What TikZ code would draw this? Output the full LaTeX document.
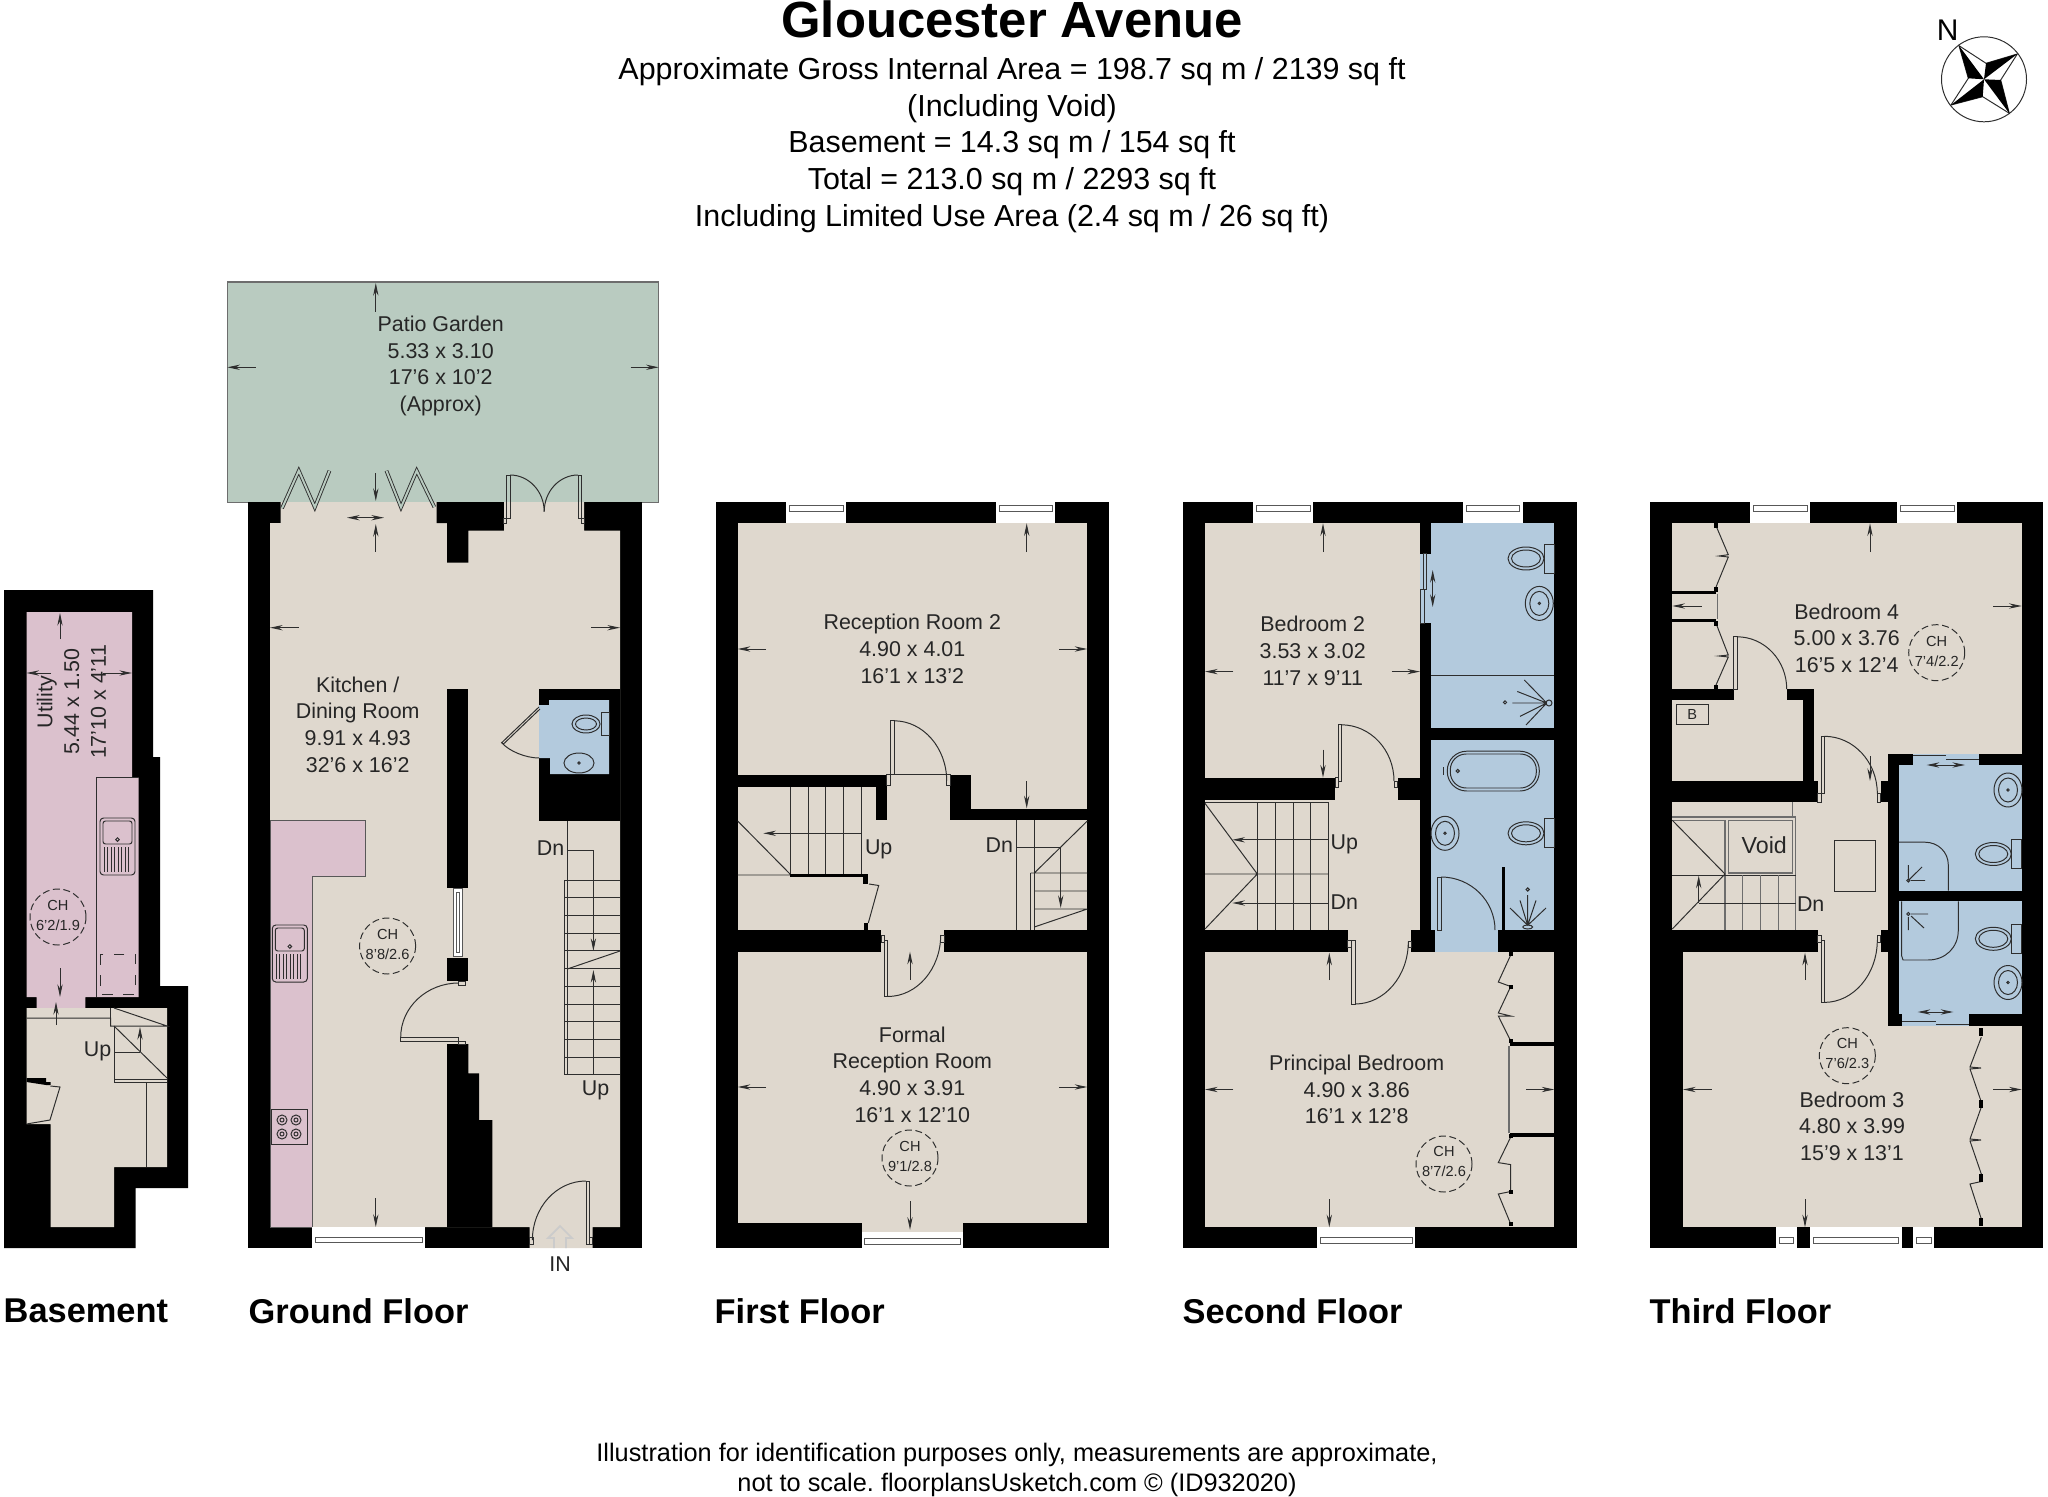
\documentclass[tikz,border=0pt]{standalone}
\usepackage{fontspec}
\setmainfont{Liberation Sans}
\usetikzlibrary{arrows.meta,calc}
\definecolor{beigefl}{HTML}{DFD8CE}
\definecolor{pinkfl}{HTML}{DBC1CD}
\definecolor{bluefl}{HTML}{B3CADD}
\definecolor{greenfl}{HTML}{B9CBC0}
\definecolor{linefl}{HTML}{2E2E2E}
\tikzset{
  thinl/.style={draw=linefl,line width=0.28pt},
  greyl/.style={draw=linefl!70,line width=0.4pt},
  dim/.style={draw=linefl,line width=0.28pt,-{Stealth[length=3.6pt,width=1.5pt]}},
  dimboth/.style={draw=linefl,line width=0.28pt,{Stealth[length=3.6pt,width=1.5pt]}-{Stealth[length=3.6pt,width=1.5pt]}},
  leaf/.style={draw=linefl,line width=0.25pt,double=#1,double distance=0.55pt},
  room/.style={inner sep=0pt,align=center,text=black!85,font=\fontsize{6.09}{7.6}\selectfont},
  smalltx/.style={inner sep=0pt,align=center,text=black!85,font=\fontsize{4.15}{5.7}\selectfont},
  flabel/.style={inner sep=0pt,anchor=west,font=\fontsize{9.78}{11}\selectfont\bfseries},
  chring/.style={draw=linefl,line width=0.28pt,dash pattern=on 2pt off 1pt}
}
% fixtures
\newcommand{\doorarc}[3]{\draw[thinl] (#1) .. controls ($(#1)!0.552!(#3)$) and ($(#2)!0.552!(#3)$) .. (#2);}
\newcommand{\basin}[2]{
  \draw[thinl] (#1,#2) ellipse (14 and 17);
  \draw[thinl] (#1,#2) ellipse (9.5 and 12);
  \draw[thinl] (#1,#2) circle (1.2);
}
\newcommand{\loo}[2]{
  \draw[thinl] (#1+18,#2-14.5) rectangle (#1+28.4,#2+14.5);
  \draw[thinl] (#1,#2) ellipse (18 and 11.5);
  \draw[thinl] (#1,#2) ellipse (14.5 and 8.5);
}
\newcommand{\kitsink}[2]{
  \draw[thinl,rounded corners=1pt] (#1,#2) rectangle (#1+35,#2+57);
  \draw[thinl,rounded corners=0.7pt] (#1+3,#2+3) rectangle (#1+32,#2+26);
  \draw[thinl] (#1+17.5,#2+21.5) circle (1.8);
  \foreach \ribx in {4,7.5,...,31} \draw[thinl] (#1+\ribx,#2+29) -- (#1+\ribx,#2+54);
}
\newcommand{\winh}[6]{
  \fill[white] (#1,#3) rectangle (#2,#4);
  \draw[draw=linefl!80,line width=0.28pt] (#1+3,#5) rectangle (#2-3,#6);
}
\begin{document}
\frenchspacing
\begin{tikzpicture}[x=0.01cm,y=-0.01cm]
\useasboundingbox (0,0) rectangle (2048,1497);
% headings
\node[inner sep=0pt,font=\fontsize{14.45}{16}\selectfont\bfseries] (title) at (1012,19) {Gloucester Avenue};
\node[inner sep=0pt,align=center,font=\fontsize{8.65}{10.4}\selectfont] (areas) at (1012,145) {Approximate Gross Internal Area = 198.7 sq m / 2139 sq ft\\(Including Void)\\Basement = 14.3 sq m / 154 sq ft\\Total = 213.0 sq m / 2293 sq ft\\Including Limited Use Area (2.4 sq m / 26 sq ft)};
\node[inner sep=0pt,align=center,font=\fontsize{7.2}{8.53}\selectfont] (notes) at (1017,1470) {Illustration for identification purposes only, measurements are approximate,\\not to scale. floorplansUsketch.com \textcopyright{} (ID932020)};
\node[flabel] (lbbase) at (3,1311) {Basement};
\node[flabel] (lbground) at (248,1311) {Ground Floor};
\node[flabel] (lbfirst) at (714,1311) {First Floor};
\node[flabel] (lbsecond) at (1182,1311) {Second Floor};
\node[flabel] (lbthird) at (1649,1311) {Third Floor};
% compass
\node[inner sep=0pt,font=\fontsize{8.5}{10}\selectfont] (north) at (1947.7,30.7) {N};
\draw[thinl] (1984,79.3) circle (42.5);
\draw[thinl] (1959,45.7) -- (1986,63.3) -- (2017.3,54) -- (2000.7,80) -- (2009.3,113.3) -- (1982.7,96.7) -- (1951,105) -- (1968.3,78.3) -- cycle;
\fill[black] (1959,45.7) -- (1984,79.3) -- (1968.3,78.3) -- cycle;
\fill[black] (2017.3,54) -- (1984,79.3) -- (1986,63.3) -- cycle;
\fill[black] (2009.3,113.3) -- (1984,79.3) -- (2000.7,80) -- cycle;
\fill[black] (1951,105) -- (1984,79.3) -- (1982.7,96.7) -- cycle;

% basement
\fill[black] (4,590) -- (153,590) -- (153,757) -- (160,757) -- (160,986) -- (188,986) -- (188,1188) -- (135.5,1188) -- (135.5,1248) -- (4,1248) -- cycle;
\fill[pinkfl] (26.5,612) -- (132,612) -- (132,777) -- (138.5,777) -- (138.5,997) -- (85.4,997) -- (85.4,1008) -- (36.6,1008) -- (36.6,997) -- (26.5,997) -- cycle;
\fill[beigefl] (26.5,1008) -- (167,1008) -- (167,1167) -- (114,1167) -- (114,1227) -- (50.5,1227) -- (50.5,1124) -- (26.5,1124) -- cycle;
\draw[thinl] (96.4,997) -- (96.4,777) -- (138.5,777);
\kitsink{100}{818}
\draw[thinl,dashed] (100,954) rectangle (135.5,994);
\draw[chring] (58,917) circle (28);
\node[smalltx] (chbase) at (58,915) {CH\\6'2/1.9};
\draw[thinl] (26.5,1018) -- (110.7,1018) -- (110.7,1026) -- (167,1026) -- (114,1008);
\draw[thinl] (110.7,1008) -- (110.7,1018);
\draw[thinl] (114,1026) -- (114,1082) -- (167,1082);
\draw[thinl] (114,1079) -- (167,1079);
\draw[thinl] (114,1026) -- (167,1078);
\draw[thinl] (114,1052) -- (140,1052);
\draw[dim] (140,1052) -- (140,1027);
\draw[thinl] (146,1082) -- (146,1167);
\fill[black] (26.5,1078) -- (46,1078) -- (46,1082) -- (50.5,1082) -- (50.5,1085) -- (46,1085) -- (26.5,1082) -- cycle;
\draw[thinl] (50.5,1086) -- (60,1087) -- (50,1120) -- (26.5,1124);
\node[room] (upbase) at (97.6,1051) {Up};
\draw[dim] (60,968) -- (60,997);
\draw[dim] (56,1025) -- (56,1002);
\draw[dim] (60,639) -- (60,613);
\draw[dim] (51,673) -- (26.5,673);
\draw[dim] (103,673) -- (132,673);
\node[room,rotate=90] (utility) at (71.5,702) {Utility\\5.44 x 1.50\\17'10 x 4'11};

% ground floor
\fill[greenfl] (227.3,282) rectangle (658.7,502.7);
\draw[greyl] (227.3,282) rectangle (658.7,502.7);
\fill[black] (248.3,502) rectangle (641.8,1248);
\fill[beigefl] (270,523) -- (280.7,523) -- (280.7,502) -- (584,502) -- (584,530.7) -- (620,530.7) -- (620,1227) -- (592.6,1227) -- (592.6,1248) -- (529.5,1248) -- (529.5,1227) -- (270,1227) -- cycle;
\fill[black] (436.5,502) -- (503.8,502) -- (503.8,530.7) -- (468.4,530.7) -- (468.4,562.7) -- (447,562.7) -- (447,523) -- (436.5,523) -- cycle;
\fill[black] (447,689) rectangle (468.4,887.7);
\fill[black] (447,957.7) rectangle (468.4,981);
\fill[black] (447,1044) -- (468.4,1044) -- (468.4,1073.3) -- (479,1073.3) -- (479,1120) -- (492.4,1120) -- (492.4,1227) -- (447,1227) -- cycle;
\fill[black] (538.7,689) rectangle (620,820.7);
\fill[bluefl] (549,700) -- (609,700) -- (609,774) -- (550,774) -- (550,758) -- (539,758) -- (539,705) -- (549,705) -- cycle;
\draw[thinl] (601,712.7) rectangle (609,735);
\draw[thinl] (586,724) ellipse (14 and 9);
\draw[thinl] (586,724) ellipse (10.5 and 6);
\draw[thinl] (579,763) ellipse (15 and 10);
\draw[thinl] (579,763) circle (1.2);
\draw[thinl] (539,707) -- (501.7,742.7) -- (503.5,744) -- (540,709);
\doorarc{501.7,742.7}{539,758}{515,758}
% counter
\filldraw[fill=pinkfl,draw=linefl!80,line width=0.28pt] (270,820) -- (365.3,820) -- (365.3,876.7) -- (312.3,876.7) -- (312.3,1227) -- (270,1227) -- cycle;
\kitsink{272.3}{925}
\draw[thinl] (271,1109.3) rectangle (307,1144.7);
\foreach \ringx in {282,296} \foreach \ringy in {1120,1134} {
  \draw[thinl] (\ringx,\ringy) circle (5);
  \draw[thinl] (\ringx,\ringy) circle (2);
}
\draw[chring] (387.6,946) circle (28);
\node[smalltx] (chground) at (387.6,944) {CH\\8'8/2.6};
% doors
\draw[draw=linefl!80,line width=0.22pt,fill=white] (453,888) rectangle (462,956.7);
\draw[draw=linefl!80,line width=0.22pt] (456,892) rectangle (459,952);
\doorarc{458.8,983}{400.7,1037.3}{400.7,983}
\draw[thinl] (400.7,1037.3) rectangle (458,1041);
\draw[thinl] (458,1041) rectangle (465,1044);
\draw[thinl] (458.5,981) rectangle (465,985);
\winh{312.3}{425}{1227}{1248}{1237.7}{1242.7}
\draw[leaf=greenfl] (282,508.3) -- (298.8,470.7) -- (314.8,507.3) -- (329.5,470.7);
\draw[leaf=greenfl] (434.3,507) -- (416.7,470.7) -- (401,507.3) -- (386.4,470.7);
\draw[thinl] (506.3,475) rectangle (510,518.3);
\draw[thinl] (578,475) rectangle (581.7,518.3);
\doorarc{510,475}{544.2,511.7}{544.2,475}
\doorarc{578,475}{544.2,511.7}{544.2,475}
\draw[thinl] (503.8,518.3) rectangle (506.3,523);
\draw[thinl] (581.7,518.3) rectangle (584,523);
\draw[thinl] (586,1181) rectangle (589,1244);
\doorarc{586,1181}{532.4,1240}{532.4,1181}
\draw[thinl] (529.5,1237) rectangle (533.5,1244);
\draw[thinl] (589,1237) rectangle (592.6,1244);
\draw[draw=linefl!25,line width=0.5pt] (554,1248) -- (554,1238) -- (548,1238) -- (560,1226) -- (572,1238) -- (566,1238) -- (566,1248);
\node[room] (ingo) at (560,1264) {IN};
% stairs
\draw[thinl] (567.3,820.7) -- (567.3,1075);
\draw[thinl] (564,880) -- (564,1075);
\foreach \stepn in {0,...,11} \draw[thinl] (564,880+\stepn*17.72) -- (620,880+\stepn*17.72);
\draw[thinl] (567.3,969) -- (620,951);
\draw[dim] (567.3,850) -- (593.4,850) -- (593.4,951);
\draw[dim] (593.4,1075) -- (593.4,970);
\node[room] (dngnd) at (550.5,848) {Dn};
\node[room] (upgnd) at (595.5,1090.7) {Up};
% dims
\draw[dim] (375.8,311.7) -- (375.8,283);
\draw[dim] (375.8,473) -- (375.8,501);
\draw[dim] (375.8,551.7) -- (375.8,524);
\draw[dimboth] (347,517.7) -- (384,517.7);
\draw[dim] (255.5,367.3) -- (227.3,367.3);
\draw[dim] (630.5,367.3) -- (658.7,367.3);
\draw[dim] (298.8,627.7) -- (270,627.7);
\draw[dim] (591.3,627.7) -- (620,627.7);
\draw[dim] (375.8,1198) -- (375.8,1227);
\node[room] (patio) at (440.7,366) {Patio Garden\\5.33 x 3.10\\17'6 x 10'2\\(Approx)};
\node[room] (kitchen) at (357.7,724.5) {Kitchen /\\Dining Room\\9.91 x 4.93\\32'6 x 16'2};

% first floor
\fill[black] (716,502) rectangle (1109,1248);
\fill[beigefl] (737.7,523.3) rectangle (1087.3,1223.3);
\foreach \xa/\ya/\xb/\yb in {737.7/774.6/886.7/787, 876/787/886.7/820, 950/774.6/971/820, 971/809.4/1087.3/820, 737.7/929.8/881/951.7, 944.3/929.8/1087.3/951.7, 790/873.6/868.3/877, 863/877/868.3/884, 864/923/868.3/930}
  \fill[black] (\xa,\ya) rectangle (\xb,\yb);
\winh{786}{846}{502}{523.3}{505}{511}
\winh{996}{1055.3}{502}{523.3}{505}{511}
\fill[beigefl] (861.7,1223.3) rectangle (963.3,1232);
\winh{861.7}{963.3}{1232}{1248}{1238}{1244}
\draw[thinl] (737.7,875) -- (790,875) (737.7,821) -- (790,874);
\foreach \treadx in {790,808.3,825.7,843.3,861.3} \draw[thinl] (\treadx,787) -- (\treadx,873.6);
\draw[dim] (861.3,833.3) -- (763.3,833.3);
\node[room] (upfirst) at (878.7,849.2) {Up};
\draw[thinl] (869,884) -- (878.7,885.5) -- (868.3,923);
\node[room] (dnfirst) at (999.3,845.2) {Dn};
\draw[dim] (1016.7,847) -- (1060.7,847) -- (1060.7,908);
\draw[thinl] (1016.7,820) -- (1016.7,930) (1034.3,820) -- (1034.3,930) (1030.7,873) -- (1030.7,930);
\draw[thinl] (1034.3,873) -- (1087.3,821) (1030.7,873) -- (1087.3,873) (1034.3,891) -- (1087.3,891) (1034.3,909) -- (1087.3,909) (1034.3,927) -- (1087.3,909);
\draw[thinl] (890.7,720.8) rectangle (894,774.6);
\doorarc{894,720.8}{946.7,781}{946.7,720.8}
\draw[thinl] (886.7,774.6) rectangle (890.7,785);
\draw[thinl] (946.7,774.6) rectangle (950,785);
\draw[thinl] (890.7,774.6) -- (946.7,774.6);
\draw[thinl] (884.3,940) rectangle (887.7,996.5);
\doorarc{887.7,996.5}{940.7,935}{940.7,996.5}
\draw[thinl] (881,935) rectangle (884.3,942);
\draw[thinl] (940.7,935) rectangle (944.3,942);
\draw[dim] (1026.7,552) -- (1026.7,523.3);
\draw[dim] (766,649) -- (737.7,649);
\draw[dim] (1059,649) -- (1087.3,649);
\draw[dim] (1026.7,781) -- (1026.7,808.4);
\draw[dim] (910,980) -- (910,951.7);
\draw[dim] (766,1087) -- (737.7,1087);
\draw[dim] (1059,1087) -- (1087.3,1087);
\draw[dim] (910,1201.4) -- (910,1229.8);
\node[room] (recep) at (912.3,649) {Reception Room 2\\4.90 x 4.01\\16'1 x 13'2};
\node[room] (formal) at (912.3,1074.5) {Formal\\Reception Room\\4.90 x 3.91\\16'1 x 12'10};
\draw[chring] (910,1158) circle (28);
\node[smalltx] (chfirst) at (910,1156.5) {CH\\9'1/2.8};

% second floor
\fill[black] (1183,502) rectangle (1576.7,1248);
\fill[beigefl] (1205,523.3) rectangle (1554.3,1227.3);
\fill[bluefl] (1431.3,523.3) rectangle (1554.3,727.8);
\fill[bluefl] (1431.3,739.8) rectangle (1554.3,951.7);
\fill[bluefl] (1420,553.7) rectangle (1431.3,623.3);
\foreach \xa/\ya/\xb/\yb in {1420/523.3/1431.3/553.7, 1420/623.3/1431.3/930, 1431.3/727.8/1554.3/739.8, 1205/777.6/1335/799.5, 1397.7/777.6/1420/799.5, 1205/930/1347.7/951.7, 1411/930/1435/951.7, 1498.3/930/1554.3/951.7, 1501.7/866.6/1505/930, 1510/1042/1554.3/1046, 1510/1133/1554.3/1137}
  \fill[black] (\xa,\ya) rectangle (\xb,\yb);
\winh{1253.3}{1313.3}{502}{523.3}{505}{511}
\winh{1463.3}{1522.7}{502}{523.3}{505}{511}
\winh{1317}{1415.3}{1227.3}{1248}{1237}{1243}
\draw[thinl] (1205,802.4) -- (1328.3,802.4) -- (1328.3,930);
\foreach \treadx in {1257.3,1275.7,1293.3,1310.7} \draw[thinl] (\treadx,802.4) -- (\treadx,930);
\draw[thinl] (1205,874) -- (1328.3,874) (1205,803.4) -- (1257.3,874) -- (1205,929);
\draw[dim] (1328.3,839.8) -- (1232.3,839.8);
\draw[dim] (1328.3,903) -- (1232.3,903);
\node[room] (upsecond) at (1344.3,844.7) {Up};
\node[room] (dnsecond) at (1344.3,902) {Dn};
\draw[thinl] (1338,724.8) rectangle (1341.3,781);
\doorarc{1341.3,724.8}{1394,781}{1394,724.8}
\draw[thinl] (1335,777.6) rectangle (1338,787);
\draw[thinl] (1394,781) rectangle (1397.7,787);
\draw[thinl] (1351.7,940) rectangle (1355,1004);
\doorarc{1355,1004}{1408.3,941.7}{1408.3,1004}
\draw[thinl] (1347.7,940) rectangle (1351.7,947);
\draw[thinl] (1408.3,941.7) rectangle (1411,947);
\draw[thinl] (1437.7,877) rectangle (1441,930);
\doorarc{1441,877}{1495,930}{1495,877}
\draw[thinl] (1423.3,553.7) rectangle (1426.7,589.5);
\draw[thinl] (1420.7,589.5) rectangle (1424,623.3);
\draw[dimboth] (1432.7,570) -- (1432.7,607);
% upper bath
\loo{1526}{558.5}
\basin{1539.3}{603.4}
\draw[thinl] (1431.3,675) -- (1554.3,675);
\draw[thinl] (1546.7,703) -- (1517.3,691.5) (1546.7,703) -- (1512.3,703) (1546.7,703) -- (1520,716.4) (1546.7,703) -- (1524.3,680) (1546.7,703) -- (1526,725);
\draw[thinl] (1549,703) circle (3);
\draw[thinl] (1505,702.4) circle (1.6);
% lower bath
\draw[thinl,rounded corners=5.5pt] (1447.3,751.2) rectangle (1539.3,791);
\draw[thinl,rounded corners=4.5pt] (1450.3,754) rectangle (1536.3,788);
\draw[thinl] (1443.3,767) -- (1443.3,775);
\draw[thinl] (1457.7,771) circle (1.6);
\basin{1445}{833.3}
\loo{1526}{833.3}
\draw[thinl] (1527.7,925.3) -- (1510,908) (1527.7,925.3) -- (1520,900.4) (1527.7,925.3) -- (1527.7,895) (1527.7,925.3) -- (1536,900.4) (1527.7,925.3) -- (1546,908);
\draw[thinl] (1527.7,889.5) circle (1.6);
\draw[thinl] (1527.7,927) ellipse (5 and 2);
% wardrobes
\draw[thinl] (1510.7,955) -- (1498.3,982) -- (1510.7,986.5) -- (1498.3,1013) -- (1510.7,1016) -- (1498.3,1016) -- (1510.7,1041);
\draw[thinl] (1510.7,1137) -- (1498.3,1162.6) -- (1510.7,1164.6) -- (1510.7,1191.5) -- (1498.3,1194) -- (1510.7,1224);
\draw[greyl] (1509,1046) -- (1509,1133);
\foreach \doty in {953.7,986.5,1041,1136,1191.5,1224} \fill[black] (1508.7,\doty-2) rectangle (1512.7,\doty+2);
\draw[dim] (1323,552) -- (1323,523.3);
\draw[dim] (1233.3,671.6) -- (1205,671.6);
\draw[dim] (1391.7,671.6) -- (1420,671.6);
\draw[dim] (1323,749.7) -- (1323,777.6);
\draw[dim] (1329.3,980) -- (1329.3,952.7);
\draw[dim] (1233.3,1089.5) -- (1205,1089.5);
\draw[dim] (1526,1089.5) -- (1554.3,1089.5);
\draw[dim] (1329.3,1199) -- (1329.3,1227.3);
\node[room] (bedtwo) at (1312.7,650.7) {Bedroom 2\\3.53 x 3.02\\11'7 x 9'11};
\node[room] (principal) at (1356.7,1089.5) {Principal Bedroom\\4.90 x 3.86\\16'1 x 12'8};
\draw[chring] (1444,1164) circle (28);
\node[smalltx] (chsecond) at (1444,1161.5) {CH\\8'7/2.6};

% third floor
\fill[black] (1650.3,502) rectangle (2043.3,1248);
\fill[beigefl] (1672.3,523.3) rectangle (2021.7,1227.3);
\foreach \xa/\ya/\xb/\yb in {1672.3/590.5/1716/593.5, 1672.3/619.4/1716/622.3, 1672.3/689/1734/700, 1787.3/689/1814/700, 1802.7/700/1814/781, 1672.3/781/1817.7/802.4, 1672.3/930/1817.7/951.7, 1672.3/951.7/1683/1227.3, 1880.7/781/1888/802.4, 1880.7/930/1888/951.7, 1887.7/753.7/2021.7/1025.8}
  \fill[black] (\xa,\ya) rectangle (\xb,\yb);
\fill[bluefl] (1899,764.6) rectangle (2021.7,890.5);
\fill[bluefl] (1899,901.4) rectangle (2021.7,1013.9);
\fill[bluefl] (1913.3,753.7) rectangle (1979.3,764.6);
\fill[bluefl] (1902.3,1013.9) rectangle (1969.3,1025.8);
\winh{1750}{1810}{502}{523.3}{505}{511}
\winh{1897.3}{1957.3}{502}{523.3}{505}{511}
\winh{1776}{1796.7}{1227.3}{1248}{1237}{1243}
\winh{1810}{1901.7}{1227.3}{1248}{1237}{1243}
\winh{1913.3}{1934.3}{1227.3}{1248}{1237}{1243}
% wardrobe and cupboard
\draw[thinl] (1716,525.8) -- (1728.3,554.7) -- (1719,556) -- (1728.3,557) -- (1716,587);
\draw[thinl] (1716,623.3) -- (1728.3,655) -- (1719,656) -- (1728.3,657) -- (1716,685);
\draw[greyl] (1717.7,593.5) -- (1717.7,619.4);
\foreach \doty in {525,589.5,623.3,687} \fill[black] (1714,\doty-2.5) rectangle (1718,\doty+2.5);
\draw[thinl] (1733.7,636.8) rectangle (1737,689);
\doorarc{1737,636.8}{1786.7,689}{1786.7,636.8}
\draw[thinl] (1676,704) rectangle (1708.7,724.8);
\node[smalltx] (boiler) at (1692.3,714) {B};
% stairs
\draw[greyl] (1672.3,816.9) -- (1795.7,816.9) -- (1795.7,930);
\draw[greyl] (1792.3,802.4) -- (1792.3,816.9);
\draw[greyl] (1728.3,820.3) rectangle (1792.3,873);
\draw[greyl] (1672.3,820.3) -- (1725,820.3) -- (1725,930);
\draw[thinl] (1672.3,820.3) -- (1725,874) -- (1672.3,929);
\draw[thinl] (1672.3,875) -- (1795.7,875);
\foreach \treadx in {1742.7,1760.7,1778.3} \draw[greyl] (\treadx,875) -- (\treadx,930);
\draw[thinl] (1795.7,903) -- (1698.7,903);
\draw[dim] (1698.7,903) -- (1698.7,875.6);
\node[room,font=\fontsize{6.6}{8}\selectfont] (voidtx) at (1764.3,844.7) {Void};
\node[room] (dnthird) at (1810.7,904.4) {Dn};
\draw[thinl] (1834.3,840.7) rectangle (1875.7,891);
% doors
\draw[thinl] (1821,736.3) rectangle (1824.3,793.5);
\doorarc{1824.3,736.3}{1877.3,793.5}{1877.3,736.3}
\draw[thinl] (1817.7,793.5) rectangle (1821,802);
\draw[thinl] (1877.3,793.5) rectangle (1880.7,802);
\draw[thinl] (1821,940) rectangle (1824.3,1002.4);
\doorarc{1824.3,1002.4}{1877.3,940}{1877.3,1002.4}
\draw[thinl] (1817.7,935) rectangle (1821,942);
\draw[thinl] (1877.3,935) rectangle (1880.7,942);
\draw[thinl] (1913.3,755.5) -- (1946,755.5) (1946,759) -- (1979.3,759);
\draw[dimboth] (1926.7,765) -- (1965,765);
\draw[thinl] (1902.3,1021) -- (1936,1021) (1936,1024) -- (1969.3,1024);
\draw[dimboth] (1917.7,1012) -- (1953.3,1012);
% baths
\basin{2008}{790}
\basin{2008}{982.5}
\loo{1993.3}{854}
\loo{1993.3}{938.8}
\draw[thinl] (1899,842.2) -- (1925,842.2) .. controls (1938,842.2) and (1948.3,852) .. (1948.3,865) -- (1948.3,890.5);
\draw[thinl] (1908.3,880.5) circle (1.6) (1908.3,880.5) -- (1922,867) (1911,880.5) -- (1925,880.5) (1908.3,878) -- (1908.3,865);
\draw[thinl] (1958.3,901.4) -- (1958.3,930) .. controls (1958.3,948) and (1945,960) .. (1928,960) -- (1903,960) -- (1901.7,956) -- (1901.7,901.4);
\draw[thinl] (1908.3,914) circle (1.6) (1911,914) -- (1928,914) (1911,916) -- (1924,928) (1908.3,917) -- (1908.3,930);
% wardrobe bedroom 3
\draw[thinl] (1981.3,1037.3) -- (1970,1067) -- (1981,1068) -- (1970,1069) -- (1981.3,1102);
\draw[thinl] (1981.3,1107) -- (1970,1139) -- (1981,1140) -- (1970,1141) -- (1981.3,1174);
\draw[thinl] (1981.3,1181.5) -- (1970,1184) -- (1981.3,1218.9);
\foreach \doty in {1032,1104.4,1177.6,1222.3} \fill[black] (1979.3,\doty-4) rectangle (1983.3,\doty+4);
\draw[dim] (1870,552) -- (1870,523.3);
\draw[dim] (1993.3,606) -- (2021.7,606);
\draw[dim] (1701.7,606) -- (1672.3,606);
\draw[dim] (1870,756) -- (1870,781);
\draw[dim] (1805,980) -- (1805,952.7);
\draw[dim] (1711.7,1089.5) -- (1683,1089.5);
\draw[dim] (1993.3,1089.5) -- (2021.7,1089.5);
\draw[dim] (1805,1199) -- (1805,1227.3);
\node[room] (bedfour) at (1846.7,638.3) {Bedroom 4\\5.00 x 3.76\\16'5 x 12'4};
\node[room] (bedthree) at (1852,1126.3) {Bedroom 3\\4.80 x 3.99\\15'9 x 13'1};
\draw[chring] (1936.7,652.7) circle (28);
\node[smalltx] (chthirda) at (1936.7,651.5) {CH\\7'4/2.2};
\draw[chring] (1847.3,1055.7) circle (28);
\node[smalltx] (chthirdb) at (1847.3,1053.5) {CH\\7'6/2.3};
\end{tikzpicture}
\end{document}
